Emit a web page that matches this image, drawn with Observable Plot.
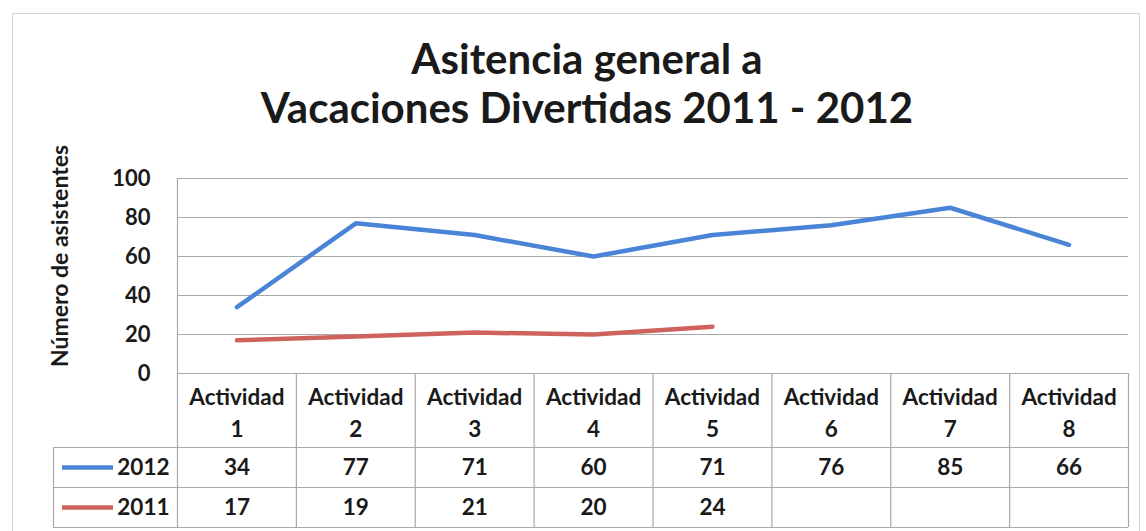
<!DOCTYPE html>
<html><head><meta charset="utf-8">
<script src="https://cdn.jsdelivr.net/npm/d3@7"></script>
<script src="https://cdn.jsdelivr.net/npm/@observablehq/plot@0.6"></script>
<style>
body{margin:0;background:#fff;}
#wrap{position:relative;width:1146px;height:531px;overflow:hidden;background:#fff;}
#border{position:absolute;left:12px;top:13px;width:1128px;height:540px;border:1px solid #d4d4d4;box-sizing:border-box;}
#chart{position:absolute;left:0;top:0;}
</style></head><body>
<div id="wrap"><div id="border"></div><div id="chart"></div></div>
<script>
// ---- data ----
const categories = ["Actividad 1","Actividad 2","Actividad 3","Actividad 4","Actividad 5","Actividad 6","Actividad 7","Actividad 8"];
const series2012 = [34, 77, 71, 60, 71, 76, 85, 66];
const series2011 = [17, 19, 21, 20, 24];
const seriesNames = ["2012", "2011"];
const yTicks = [0, 20, 40, 60, 80, 100];
const titleLines = ["Asitencia general a", "Vacaciones Divertidas 2011 - 2012"];
const yLabel = "Número de asistentes";

// ---- layout ----
const W = 1146, H = 531;
const mL = 177, mR = 18, mT = 178, mB = 158;
const plotH = H - mT - mB;            // 195 px for 0..100
const plotW = W - mL - mR;
const step = plotW / categories.length;
const u = px => -px * 100 / plotH;     // px below the x-axis -> y data units
const ux = px => 0.5 + px / step;      // px from plot left -> x data units
const blue = "#4a84d6", red = "#d0625e", grid = "#a9a9a9";
const font = "Lato, 'Open Sans', sans-serif";

const d2012 = series2012.map((v, i) => ({x: i + 1, v}));
const d2011 = series2011.map((v, i) => ({x: i + 1, v}));
const headers = categories.map((c, i) => ({x: i + 1, t: c.replace(" ", "\n")}));
const bounds = d3.range(categories.length + 1).map(i => i + 0.5);

const rowTops = [74, 114, 154];  // px below the axis: bottom of header, 2012, 2011 rows
const rowMid = [94, 134];
const fs = 22.5;

const chart = Plot.plot({
  width: W, height: H,
  marginLeft: mL, marginRight: mR, marginTop: mT, marginBottom: mB,
  style: {fontFamily: font, color: "#1a1a1a", background: "transparent"},
  x: {domain: [0.5, categories.length + 0.5], axis: null},
  y: {domain: [0, 100], axis: null},
  marks: [
    Plot.ruleY(yTicks, {stroke: grid, strokeWidth: 1.2}),
    Plot.ruleX([0.5], {y1: 100, y2: u(rowTops[2]), stroke: grid, strokeWidth: 1.2}),
    Plot.ruleX(bounds.slice(1), {y1: 0, y2: u(rowTops[2]), stroke: grid, strokeWidth: 1.2}),
    Plot.ruleY(rowTops.map(u), {x1: ux(-124), x2: categories.length + 0.5, stroke: grid, strokeWidth: 1.2}),
    Plot.ruleX([ux(-124)], {y1: u(rowTops[0]), y2: u(rowTops[2]), stroke: grid, strokeWidth: 1.2}),
    // y axis
    Plot.axisY(yTicks, {tickSize: 0, tickPadding: 27, fontSize: 22, fontWeight: "bold", label: null, fill: "#1a1a1a"}),
    Plot.text([yLabel], {frameAnchor: "left", textAnchor: "middle", rotate: -90, dx: -117, dy: -20, fontSize: 23, fontWeight: "bold", fill: "#1a1a1a"}),
    // series lines
    Plot.line(d2011, {x: "x", y: "v", stroke: red, strokeWidth: 4.5, strokeLinejoin: "round"}),
    Plot.line(d2012, {x: "x", y: "v", stroke: blue, strokeWidth: 4.5, strokeLinejoin: "round"}),
    // table header
    Plot.text(headers, {x: "x", text: "t", frameAnchor: "bottom", dy: 37, lineHeight: 1.45, lineAnchor: "middle", fontSize: fs, fontWeight: "bold", fill: "#1a1a1a"}),
    // table values
    Plot.text(d2012, {x: "x", text: d => String(d.v), frameAnchor: "bottom", dy: rowMid[0], lineAnchor: "middle", fontSize: fs, fontWeight: "bold", fill: "#1a1a1a"}),
    Plot.text(d2011, {x: "x", text: d => String(d.v), frameAnchor: "bottom", dy: rowMid[1], lineAnchor: "middle", fontSize: fs, fontWeight: "bold", fill: "#1a1a1a"}),
    // legend keys
    Plot.ruleY([u(rowMid[0])], {x1: ux(-115), x2: ux(-64), stroke: blue, strokeWidth: 4.5}),
    Plot.ruleY([u(rowMid[1])], {x1: ux(-115), x2: ux(-64), stroke: red, strokeWidth: 4.5}),
    Plot.text(seriesNames, {x: () => ux(-8), y: (d, i) => u(rowMid[i]), textAnchor: "end", lineAnchor: "middle", fontSize: fs, fontWeight: "bold", fill: "#1a1a1a"}),
    // title
    Plot.text([titleLines.join("\n")], {frameAnchor: "top", dx: -66, dy: -96, lineHeight: 1.17, lineAnchor: "middle", fontSize: 42, fontWeight: "bold", fill: "#1a1a1a"})
  ]
});
document.getElementById("chart").append(chart);
</script>
</body></html>
